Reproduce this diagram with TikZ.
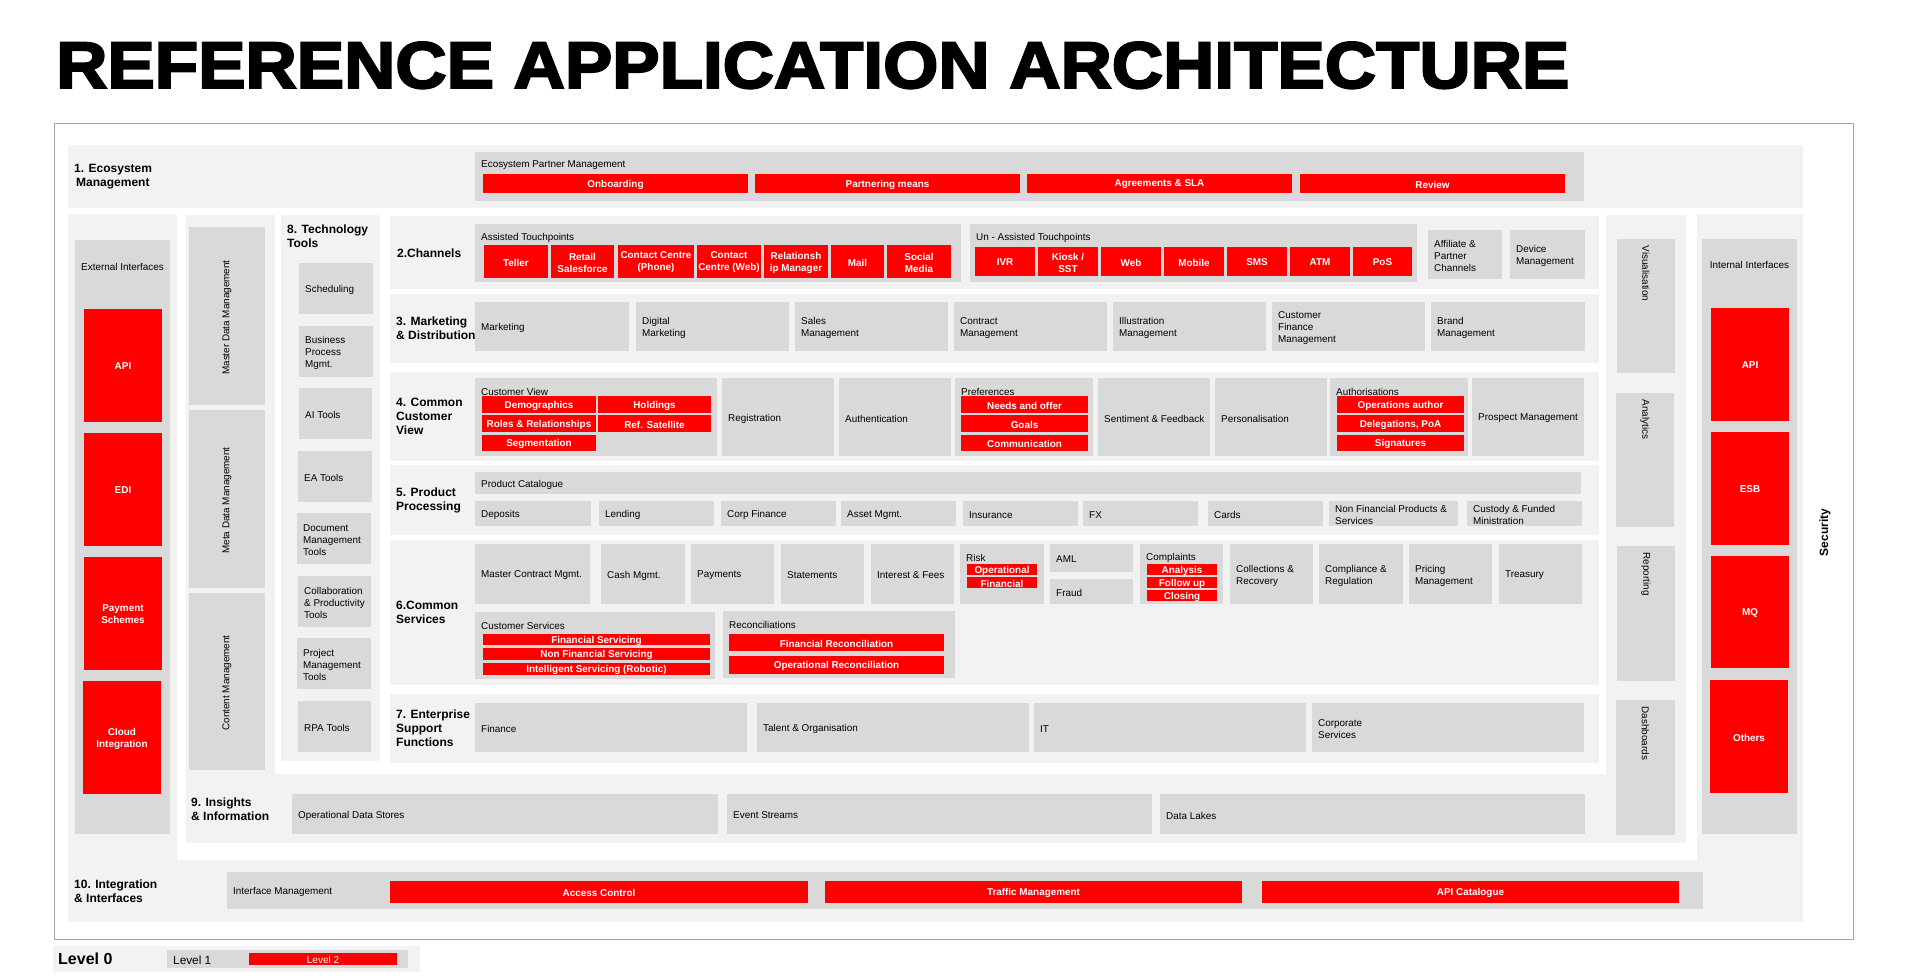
\documentclass[tikz,border=0pt]{standalone}
\usepackage{fontspec}
\setmainfont{Liberation Sans}
\newfontfamily\titlefont[FakeBold=3]{Liberation Sans Bold}
\usepackage{graphicx}
\usepackage{tikz}
\usetikzlibrary{fit}
\definecolor{panel}{HTML}{F2F2F2}
\definecolor{tile}{HTML}{D9D9D9}
\definecolor{hot}{HTML}{FF0000}
\definecolor{rule}{HTML}{A6A6A6}
\newcommand{\panelat}[3]{
  \node[panelbox,fit={#2 #3}] (#1) {};
}
\newcommand{\blankat}[3]{
  \node[blankbox,fit={#2 #3}] (#1) {};
}
\newcommand{\tile}[4]{
  \node[tilebox,fit={#2 #3}] (#1) {};
  \node[txt,anchor=west] (#1-t) at ([xshift=6pt]#1.west) {#4};
}
\newcommand{\tilecap}[4]{
  \node[tilebox,fit={#2 #3}] (#1) {};
  \node[txt,anchor=west] (#1-t) at ([xshift=6pt,yshift=-12pt]#1.north west) {#4};
}
\newcommand{\hot}[4]{
  \node[hotbox,fit={#2 #3}] (#1) {};
  \node[hottxt] (#1-t) at (#1.center) {#4};
}
\newcommand{\vtile}[4]{
  \node[tilebox,fit={#2 #3}] (#1) {};
  \node[txt,rotate=90] (#1-t) at (#1.center) {#4};
}
\newcommand{\dtile}[4]{
  \node[tilebox,fit={#2 #3}] (#1) {};
  \node[txt,rotate=-90,anchor=west] (#1-t) at ([yshift=-5pt]#1.north) {#4};
}

\begin{document}
\begin{tikzpicture}[x=1pt,y=-1pt,
  panelbox/.style={fill=panel,inner sep=0pt,outer sep=0pt},
  blankbox/.style={fill=white,inner sep=0pt,outer sep=0pt},
  tilebox/.style={fill=tile,inner sep=0pt,outer sep=0pt},
  hotbox/.style={fill=hot,inner sep=0pt,outer sep=0pt},
  borderbox/.style={draw=rule,line width=1pt,inner sep=0pt},
  txt/.style={inner sep=0pt,yshift=-1.5pt,text=black,align=left,font=\fontsize{9.9}{12}\selectfont},
  hottxt/.style={inner sep=0pt,yshift=-1pt,text=white,align=center,font=\fontsize{9.9}{12}\selectfont\bfseries},
  sect/.style={inner sep=0pt,anchor=west,align=left,font=\fontsize{12}{14}\selectfont\bfseries}]
  \useasboundingbox (0,0) rectangle (1908,979);

  \node[anchor=base west,inner sep=0pt] (title) at (56,88)
    {\resizebox{1513pt}{46pt}{\titlefont REFERENCE APPLICATION ARCHITECTURE}};
  \node[borderbox,fit={(54,124) (1853,939)}] (frame) {};

  \panelat{eco}{(68,145)}{(1803,208)}
  \panelat{main}{(68,214)}{(1803,922)}
  \blankat{inner}{(177,214)}{(1697,860)}
  \panelat{insight}{(186,215)}{(1686,843)}
  \blankat{core}{(275,214)}{(1606,774)}
  \panelat{techcol}{(281,215)}{(380,761)}
  \panelat{row2}{(390,216)}{(1599,289)}
  \panelat{row3}{(390,294)}{(1599,363)}
  \panelat{row4}{(390,372)}{(1599,461)}
  \panelat{row5}{(390,465)}{(1599,535)}
  \panelat{row6}{(390,540)}{(1599,685)}
  \panelat{row7}{(390,694)}{(1599,763)}

  \node[sect] (s1) at (74,176.5) {1. Ecosystem\\\hspace*{2pt}Management};
  \tilecap{epm}{(475,152)}{(1584,201)}{Ecosystem Partner Management}
  \hot{onb}{(483,174)}{(748,193)}{Onboarding}
  \hot{ptn}{(755,174)}{(1020,193)}{Partnering means}
  \hot{sla}{(1027,174)}{(1292,193)}{Agreements \& SLA}
  \hot{rev}{(1300,174)}{(1565,193)}{Review}

  \node[tilebox,fit={(75,240) (170,834)}] (ext) {};
  \node[txt] (ext-t) at (122.5,265) {External Interfaces};
  \hot{xapi}{(84,309)}{(162,422)}{API}
  \hot{xedi}{(84,433)}{(162,546)}{EDI}
  \hot{xpay}{(84,557)}{(162,670)}{Payment\\Schemes}
  \hot{xcld}{(83,681)}{(161,794)}{Cloud\\Integration}

  \vtile{mdm}{(189,227)}{(265,405)}{Master Data Management}
  \vtile{meta}{(189,410)}{(265,588)}{Meta Data Management}
  \vtile{cnt}{(189,593)}{(265,770)}{Content Management}

  \node[sect] (s8) at (287,236) {8. Technology\\Tools};
  \tile{sch}{(299,263)}{(373,314)}{Scheduling}
  \tile{bpm}{(299,326)}{(373,377)}{Business\\Process\\Mgmt.}
  \tile{ait}{(299,388)}{(372,439)}{AI Tools}
  \tile{eat}{(298,451)}{(372,502)}{EA Tools}
  \tile{doc}{(297,513)}{(371,564)}{Document\\Management\\Tools}
  \tile{clb}{(298,576)}{(371,627)}{Collaboration\\\& Productivity\\Tools}
  \tile{prj}{(297,638)}{(371,689)}{Project\\Management\\Tools}
  \tile{rpa}{(298,701)}{(371,752)}{RPA Tools}

  \node[sect] (s2) at (397,253) {2.Channels};
  \tilecap{atp}{(475,224)}{(961,282)}{Assisted Touchpoints}
  \hot{tel}{(484,245)}{(548,278)}{Teller}
  \hot{rsf}{(551,245)}{(614,278)}{Retail\\Salesforce}
  \hot{ccp}{(618,245)}{(694,278)}{Contact Centre\\(Phone)}
  \hot{ccw}{(697,245)}{(761,278)}{Contact\\Centre (Web)}
  \hot{rlm}{(764,245)}{(828,278)}{Relationsh\\ip Manager}
  \hot{mail}{(831,245)}{(884,278)}{Mail}
  \hot{soc}{(887,245)}{(951,278)}{Social\\Media}
  \tilecap{utp}{(970,224)}{(1417,282)}{Un - Assisted Touchpoints}
  \hot{ivr}{(975,247)}{(1035,276)}{IVR}
  \hot{ksk}{(1038,247)}{(1098,276)}{Kiosk /\\SST}
  \hot{web}{(1101,247)}{(1161,276)}{Web}
  \hot{mob}{(1164,247)}{(1224,276)}{Mobile}
  \hot{sms}{(1227,247)}{(1287,276)}{SMS}
  \hot{atm}{(1290,247)}{(1350,276)}{ATM}
  \hot{pos}{(1353,247)}{(1412,276)}{PoS}
  \tile{aff}{(1428,230)}{(1502,279)}{Affiliate \&\\Partner\\Channels}
  \tile{dev}{(1510,230)}{(1585,279)}{Device\\Management}

  \node[sect] (s3) at (396,328.7) {3. Marketing\\\& Distribution};
  \tile{mkt}{(475,302)}{(629,351)}{Marketing}
  \tile{dmk}{(636,302)}{(789,351)}{Digital\\Marketing}
  \tile{sls}{(795,302)}{(948,351)}{Sales\\Management}
  \tile{ctr}{(954,302)}{(1107,351)}{Contract\\Management}
  \tile{ill}{(1113,302)}{(1266,351)}{Illustration\\Management}
  \tile{cfm}{(1272,302)}{(1425,351)}{Customer\\Finance\\Management}
  \tile{brd}{(1431,302)}{(1585,351)}{Brand\\Management}

  \node[sect] (s4) at (396,416.7) {4. Common\\Customer\\View};
  \tilecap{cv}{(475,378)}{(717,456)}{Customer View}
  \hot{dem}{(482,396)}{(596,413)}{Demographics}
  \hot{hld}{(598,396)}{(711,413)}{Holdings}
  \hot{rol}{(482,415)}{(596,432)}{Roles \& Relationships}
  \hot{ref}{(598,415)}{(711,432)}{Ref. Satellite}
  \hot{seg}{(482,435)}{(596,451)}{Segmentation}
  \tile{reg}{(722,378)}{(834,456)}{Registration}
  \tile{aut}{(839,378)}{(951,456)}{Authentication}
  \tilecap{prf}{(955,378)}{(1093,456)}{Preferences}
  \hot{nao}{(961,396)}{(1088,413)}{Needs and offer}
  \hot{gls}{(961,415)}{(1088,432)}{Goals}
  \hot{com}{(961,435)}{(1088,451)}{Communication}
  \tile{snt}{(1098,378)}{(1210,456)}{Sentiment \& Feedback}
  \tile{per}{(1215,378)}{(1327,456)}{Personalisation}
  \tilecap{ath}{(1330,378)}{(1468,456)}{Authorisations}
  \hot{opa}{(1337,396)}{(1464,413)}{Operations author}
  \hot{dlg}{(1337,415)}{(1464,432)}{Delegations, PoA}
  \hot{sig}{(1337,435)}{(1464,451)}{Signatures}
  \tile{prs}{(1472,378)}{(1584,456)}{Prospect Management}

  \node[sect] (s5) at (396,500.5) {5. Product\\Processing};
  \tile{cat}{(475,472)}{(1581,494)}{Product Catalogue}
  \tile{dep}{(475,501)}{(591,526)}{Deposits}
  \tile{lnd}{(599,501)}{(714,526)}{Lending}
  \tile{cfn}{(721,501)}{(836,526)}{Corp Finance}
  \tile{ast}{(841,501)}{(956,526)}{Asset Mgmt.}
  \tile{ins}{(963,501)}{(1078,526)}{Insurance}
  \tile{fx}{(1083,501)}{(1198,526)}{FX}
  \tile{crd}{(1208,501)}{(1323,526)}{Cards}
  \tile{nfp}{(1329,501)}{(1458,526)}{Non Financial Products \&\\Services}
  \tile{cst}{(1467,501)}{(1582,526)}{Custody \& Funded\\Ministration}

  \node[sect] (s6) at (396,612.7) {6.Common\\Services};
  \tile{mcm}{(475,544)}{(590,604)}{Master Contract Mgmt.}
  \tile{csh}{(601,544)}{(685,604)}{Cash Mgmt.}
  \tile{pay}{(691,544)}{(774,604)}{Payments}
  \tile{stm}{(781,544)}{(864,604)}{Statements}
  \tile{int}{(871,544)}{(954,604)}{Interest \& Fees}
  \tilecap{rsk}{(960,544)}{(1044,604)}{Risk}
  \hot{opr}{(967,564)}{(1037,575)}{Operational}
  \hot{fnr}{(967,577)}{(1037,588)}{Financial}
  \tile{aml}{(1050,544)}{(1133,572)}{AML}
  \tile{frd}{(1050,579)}{(1133,604)}{Fraud}
  \tilecap{cmp}{(1140,544)}{(1223,604)}{Complaints}
  \hot{anl}{(1147,564)}{(1217,575)}{Analysis}
  \hot{fup}{(1147,577)}{(1217,588)}{Follow up}
  \hot{cls}{(1147,590)}{(1217,601)}{Closing}
  \tile{col}{(1230,544)}{(1313,604)}{Collections \&\\Recovery}
  \tile{cpl}{(1319,544)}{(1403,604)}{Compliance \&\\Regulation}
  \tile{prc}{(1409,544)}{(1492,604)}{Pricing\\Management}
  \tile{try}{(1499,544)}{(1582,604)}{Treasury}
  \tilecap{csv}{(475,612)}{(715,679)}{Customer Services}
  \hot{fsv}{(483,634)}{(710,645)}{Financial Servicing}
  \hot{nfs}{(483,648)}{(710,660)}{Non Financial Servicing}
  \hot{isv}{(483,663)}{(710,675)}{Intelligent Servicing (Robotic)}
  \tilecap{rec}{(723,611)}{(955,678)}{Reconciliations}
  \hot{frc}{(729,634)}{(944,651)}{Financial Reconciliation}
  \hot{orc}{(729,656)}{(944,674)}{Operational Reconciliation}

  \node[sect] (s7) at (396,728.3) {7. Enterprise\\Support\\Functions};
  \tile{fin}{(475,703)}{(747,752)}{Finance}
  \tile{tal}{(757,703)}{(1029,752)}{Talent \& Organisation}
  \tile{it}{(1034,703)}{(1306,752)}{IT}
  \tile{cor}{(1312,703)}{(1584,752)}{Corporate\\Services}

  \node[sect] (s9) at (191,808.8) {9. Insights\\\& Information};
  \tile{ods}{(292,794)}{(718,834)}{Operational Data Stores}
  \tile{evs}{(727,794)}{(1152,834)}{Event Streams}
  \tile{lake}{(1160,794)}{(1585,834)}{Data Lakes}

  \dtile{vis}{(1617,239)}{(1675,373)}{Visualisation}
  \dtile{anx}{(1616,393)}{(1674,527)}{Analytics}
  \dtile{rpt}{(1617,546)}{(1675,681)}{Reporting}
  \dtile{dsh}{(1616,700)}{(1675,835)}{Dashboards}

  \node[tilebox,fit={(1702,239) (1797,834)}] (iif) {};
  \node[txt] (iif-t) at (1749.5,263.6) {Internal Interfaces};
  \hot{iapi}{(1711,308)}{(1789,421)}{API}
  \hot{iesb}{(1711,432)}{(1789,545)}{ESB}
  \hot{imq}{(1711,556)}{(1789,668)}{MQ}
  \hot{ioth}{(1710,680)}{(1788,793)}{Others}
  \node[sect,anchor=center,rotate=90] (sec) at (1825,532.5) {Security};

  \node[sect] (s10) at (74,891) {10. Integration\\\& Interfaces};
  \tile{ifm}{(227,872)}{(1703,909)}{Interface Management}
  \hot{acc}{(390,881)}{(808,903)}{Access Control}
  \hot{trf}{(825,881)}{(1242,903)}{Traffic Management}
  \hot{apc}{(1262,881)}{(1679,903)}{API Catalogue}

  \panelat{legend}{(53,946)}{(420,972)}
  \node[inner sep=0pt,anchor=west,font=\fontsize{16}{18}\selectfont\bfseries] (lv0) at (58,959) {Level 0};
  \node[tilebox,fit={(167,950) (408,968)}] (lv1) {};
  \node[txt,anchor=west,font=\fontsize{11.8}{14}\selectfont] (lv1-t) at ([xshift=6pt]lv1.west) {Level 1};
  \node[hotbox,fit={(249,953) (397,965)}] (lv2) {};
  \node[inner sep=0pt,yshift=-1pt,text=white,font=\fontsize{10}{12}\selectfont] (lv2-t) at (lv2.center) {Level 2};
\end{tikzpicture}
\end{document}
